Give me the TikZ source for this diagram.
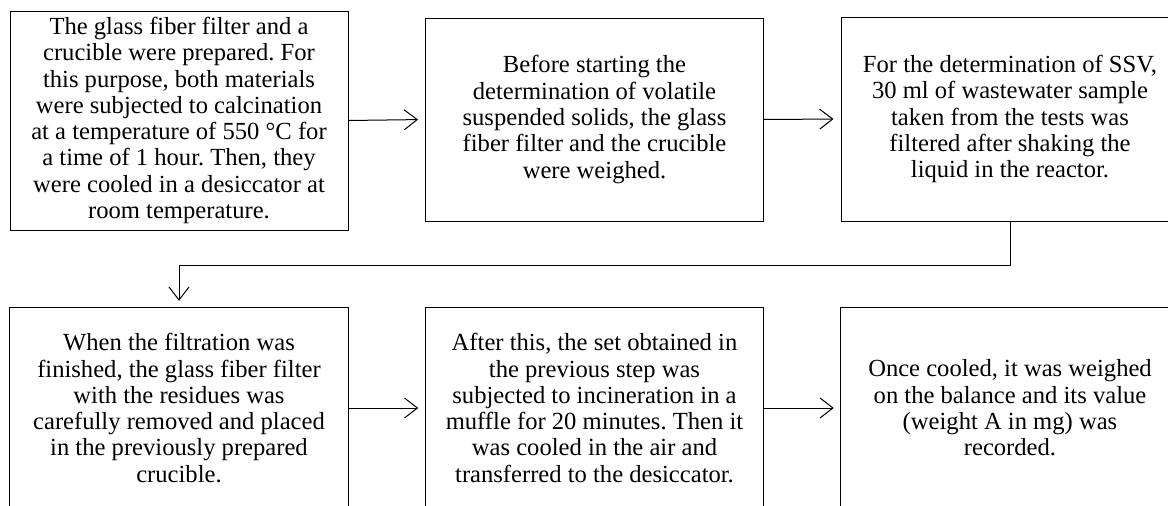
\documentclass[tikz,border=0pt]{standalone}
\usepackage{fontspec}
\setmainfont{Liberation Serif}
\usetikzlibrary{arrows.meta}
\frenchspacing
\begin{document}
\begin{tikzpicture}[x=1pt,y=-1pt,
  stepbox/.style={draw=black, line width=1pt, minimum width=338pt, inner sep=0pt, align=center,
    font=\fontsize{24.6}{26.3}\selectfont},
  textonly/.style={minimum width=338pt, inner sep=0pt, align=center,
    font=\fontsize{24.6}{26.3}\selectfont},
  flow/.style={line width=1pt, -{Straight Barb[length=13pt,width=20pt,line width=1pt]}, shorten >=7pt}]
\useasboundingbox (0,0) rectangle (1168,506);
\clip (0,0) rectangle (1168,506);
\node[stepbox, minimum height=219pt] (a) at (179,120.5) {The glass fiber filter and a\\crucible were prepared. For\\this purpose, both materials\\were subjected to calcination\\at a temperature of 550 °C for\\a time of 1 hour. Then, they\\were cooled in a desiccator at\\room temperature.};
\node[stepbox, minimum height=203pt] (b) at (594.5,119.5) {Before starting the\\determination of volatile\\suspended solids, the glass\\fiber filter and the crucible\\were weighed.};
\node[stepbox, minimum height=204pt] (c) at (1010,119) {For the determination of SSV,\\30 ml of wastewater sample\\taken from the tests was\\filtered after shaking the\\liquid in the reactor.};
\node[textonly, minimum height=200pt] (d) at (179,408) {When the filtration was\\finished, the glass fiber filter\\with the residues was\\carefully removed and placed\\in the previously prepared\\crucible.};
\node[textonly, minimum height=200pt] (e) at (594.5,408) {After this, the set obtained in\\the previous step was\\subjected to incineration in a\\muffle for 20 minutes. Then it\\was cooled in the air and\\transferred to the desiccator.};
\node[textonly, minimum height=200pt] (f) at (1010,408) {Once cooled, it was weighed\\on the balance and its value\\(weight A in mg) was\\recorded.};
\foreach \n in {d,e,f}
  \draw[line width=1pt] (\n.north west) rectangle ([yshift=-20pt]\n.south east);
\coordinate (k1) at (1010,265);
\coordinate (k2) at (179,265);
\draw[flow] (a.east) -- (b.west);
\draw[flow] (b.east) -- (c.west);
\draw[flow] (c.south) -- (k1) -- (k2) -- (d.north);
\draw[flow] (d.east) -- (e.west);
\draw[flow] (e.east) -- (f.west);
\end{tikzpicture}
\end{document}
